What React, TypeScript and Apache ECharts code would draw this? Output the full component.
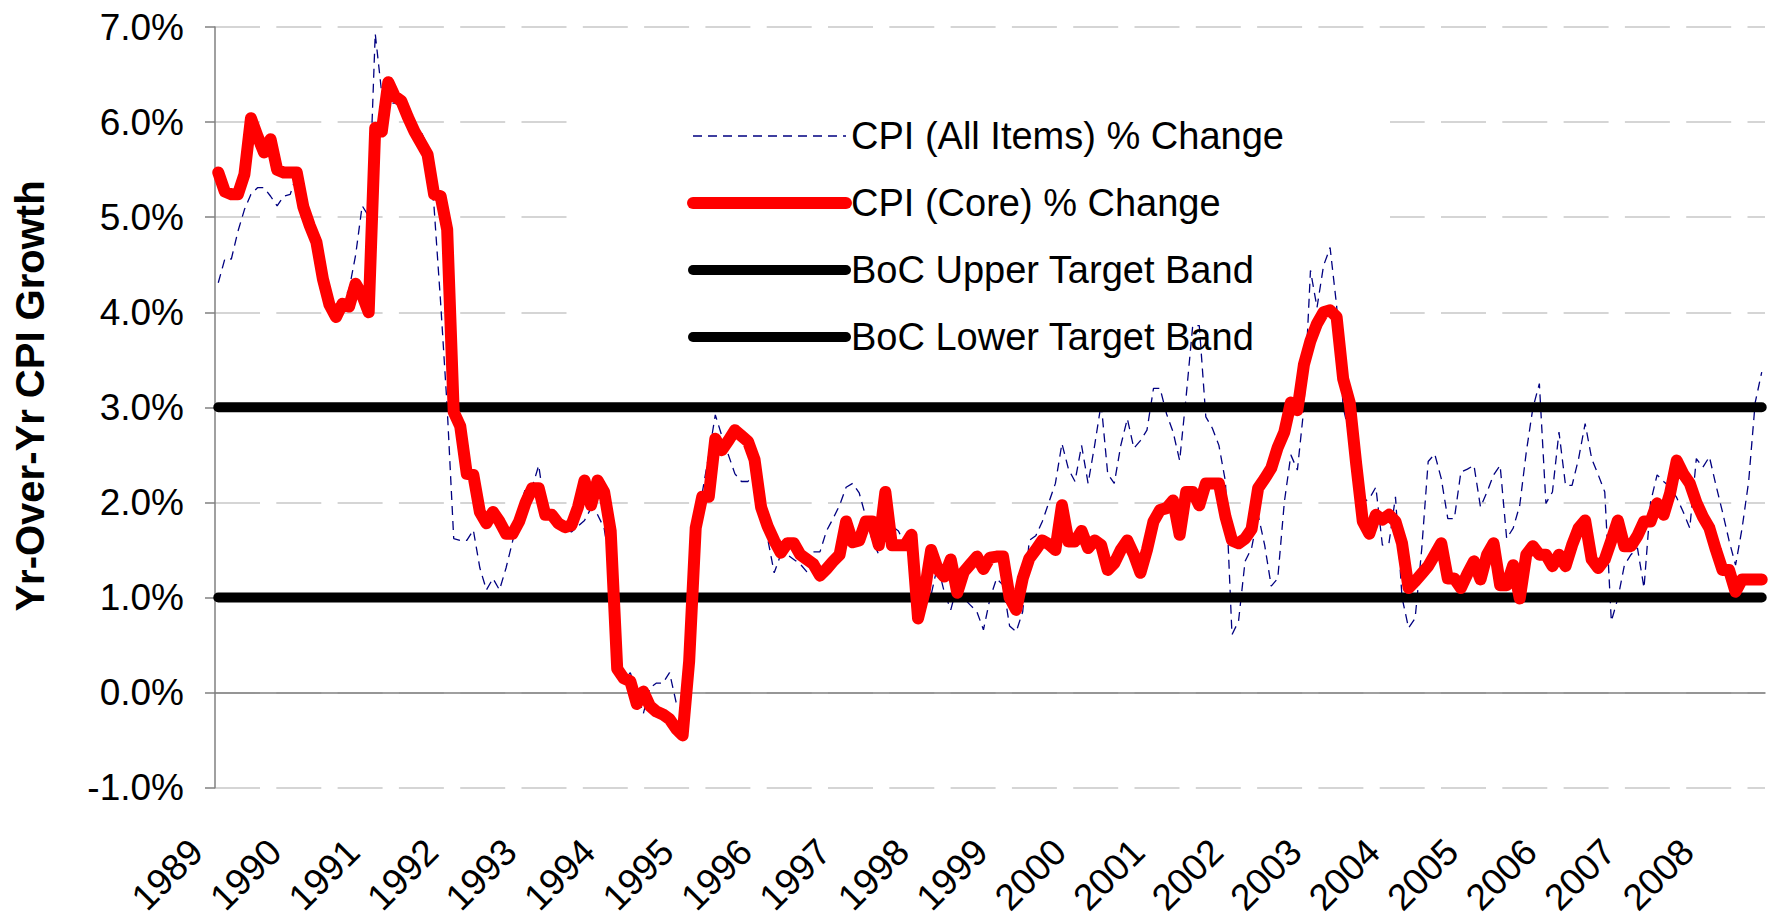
import React, { useEffect, useRef } from 'react';
import * as echarts from 'echarts';

// ---------- DATA ----------
const YEARS = ['1989', '1990', '1991', '1992', '1993', '1994', '1995', '1996', '1997', '1998',
  '1999', '2000', '2001', '2002', '2003', '2004', '2005', '2006', '2007', '2008'];
const MONTHS_IN_LAST_YEAR = 9; // series ends Sep 2008

// Y/Y % change, CPI all items (monthly, Jan 1989 – Sep 2008)
const CPI_ALL = [
  4.31, 4.56, 4.56, 4.85, 5.08, 5.24, 5.31, 5.31, 5.22, 5.12, 5.22, 5.24,
  5.45, 5.33, 4.95, 4.65, 4.38, 4.15, 4.10, 4.10, 4.24, 4.60, 5.12, 5.01,
  6.93, 6.30, 6.20, 6.20, 6.17, 6.00, 5.95, 5.90, 5.75, 5.10, 4.10, 3.00,
  1.62, 1.60, 1.60, 1.71, 1.31, 1.08, 1.20, 1.08, 1.31, 1.59, 1.90, 2.16,
  2.16, 2.39, 1.90, 1.87, 1.87, 1.72, 1.69, 1.75, 1.81, 1.94, 1.87, 1.73,
  1.30, 0.22, 0.12, 0.21, 0.00, -0.22, 0.05, 0.10, 0.10, 0.21, -0.10, -0.20,
  0.60, 1.80, 2.10, 2.50, 2.92, 2.70, 2.50, 2.30, 2.22, 2.22, 2.32, 2.00,
  1.62, 1.26, 1.45, 1.45, 1.40, 1.35, 1.27, 1.48, 1.48, 1.70, 1.83, 1.97,
  2.16, 2.20, 2.10, 1.85, 1.60, 1.45, 1.65, 1.75, 1.70, 1.55, 1.35, 1.00,
  1.00, 1.03, 1.34, 1.06, 0.87, 1.13, 0.99, 0.92, 0.85, 0.66, 0.99, 1.20,
  1.13, 0.70, 0.64, 0.85, 1.60, 1.65, 1.80, 2.00, 2.20, 2.62, 2.35, 2.22,
  2.60, 2.20, 2.60, 3.04, 2.30, 2.20, 2.60, 2.88, 2.57, 2.65, 2.76, 3.20,
  3.20, 2.93, 2.74, 2.44, 3.12, 3.86, 3.86, 2.90, 2.78, 2.60, 2.22, 0.61,
  0.75, 1.38, 1.52, 1.87, 1.55, 1.12, 1.20, 2.00, 2.50, 2.34, 3.00, 4.44,
  4.05, 4.49, 4.68, 4.07, 3.00, 2.70, 2.30, 2.00, 2.04, 2.16, 1.55, 1.57,
  2.06, 1.00, 0.68, 0.78, 1.50, 2.43, 2.51, 2.25, 1.83, 1.83, 2.32, 2.35,
  2.39, 1.95, 2.11, 2.29, 2.39, 1.62, 1.73, 1.97, 2.53, 2.99, 3.25, 1.99,
  2.11, 2.74, 2.18, 2.18, 2.46, 2.83, 2.46, 2.29, 2.11, 0.75, 0.99, 1.34,
  1.45, 1.52, 1.10, 2.00, 2.29, 2.22, 2.16, 2.05, 1.90, 1.73, 2.46, 2.37,
  2.48, 2.18, 1.90, 1.60, 1.34, 1.73, 2.22, 3.05, 3.37,
];

// Y/Y % change, core CPI
const CPI_CORE = [
  5.47, 5.27, 5.24, 5.24, 5.45, 6.04, 5.85, 5.68, 5.82, 5.50, 5.47, 5.47,
  5.47, 5.11, 4.91, 4.74, 4.35, 4.08, 3.95, 4.09, 4.06, 4.30, 4.18, 4.00,
  5.94, 5.90, 6.42, 6.27, 6.22, 6.05, 5.90, 5.78, 5.66, 5.24, 5.22, 4.87,
  2.95, 2.80, 2.30, 2.29, 1.90, 1.78, 1.90, 1.80, 1.67, 1.67, 1.80, 2.00,
  2.15, 2.15, 1.87, 1.87, 1.78, 1.74, 1.76, 1.95, 2.23, 1.97, 2.23, 2.11,
  1.70, 0.25, 0.15, 0.12, -0.12, 0.01, -0.14, -0.20, -0.23, -0.28, -0.38, -0.45,
  0.33, 1.73, 2.06, 2.06, 2.67, 2.55, 2.65, 2.76, 2.70, 2.64, 2.45, 1.95,
  1.75, 1.60, 1.47, 1.57, 1.57, 1.45, 1.40, 1.35, 1.23, 1.30, 1.38, 1.45,
  1.80, 1.58, 1.60, 1.80, 1.80, 1.55, 2.11, 1.55, 1.55, 1.55, 1.66, 0.78,
  1.06, 1.50, 1.30, 1.22, 1.40, 1.05, 1.27, 1.35, 1.43, 1.30, 1.42, 1.43,
  1.43, 1.00, 0.87, 1.20, 1.41, 1.50, 1.60, 1.56, 1.50, 1.97, 1.59, 1.59,
  1.70, 1.52, 1.60, 1.55, 1.29, 1.36, 1.50, 1.60, 1.45, 1.26, 1.50, 1.80,
  1.92, 1.94, 2.02, 1.66, 2.11, 2.11, 1.97, 2.20, 2.20, 2.20, 1.85, 1.60,
  1.57, 1.62, 1.72, 2.15, 2.25, 2.36, 2.58, 2.74, 3.05, 2.97, 3.45, 3.70,
  3.88, 4.00, 4.02, 3.95, 3.30, 3.05, 2.40, 1.80, 1.67, 1.87, 1.82, 1.87,
  1.80, 1.57, 1.10, 1.17, 1.25, 1.33, 1.45, 1.57, 1.20, 1.20, 1.10, 1.25,
  1.38, 1.19, 1.45, 1.57, 1.13, 1.13, 1.34, 0.99, 1.45, 1.54, 1.45, 1.45,
  1.33, 1.45, 1.33, 1.55, 1.73, 1.81, 1.40, 1.31, 1.40, 1.60, 1.81, 1.54,
  1.54, 1.65, 1.80, 1.80, 1.99, 1.87, 2.10, 2.44, 2.30, 2.20, 2.00, 1.85,
  1.73, 1.50, 1.29, 1.29, 1.06, 1.19, 1.19, 1.19, 1.19,
];

const UPPER_BAND = 3.0;
const LOWER_BAND = 1.0;

const Y_MIN = -1;
const Y_MAX = 7;
const Y_INTERVAL = 1;

const SERIES_NAMES = [
  'CPI (All Items) % Change',
  'CPI (Core) % Change',
  'BoC Upper Target Band',
  'BoC Lower Target Band',
];
const Y_TITLE = 'Yr-Over-Yr CPI Growth';

// ---------- derived ----------
const CATEGORIES: string[] = [];
YEARS.forEach((y, yi) => {
  const n = yi === YEARS.length - 1 ? MONTHS_IN_LAST_YEAR : 12;
  for (let m = 1; m <= n; m++) CATEGORIES.push(`${y}-${m < 10 ? '0' + m : m}`);
});
const UPPER = CATEGORIES.map(() => UPPER_BAND);
const LOWER = CATEGORIES.map(() => LOWER_BAND);

const FONT = '"Liberation Sans", Arial, Helvetica, sans-serif';

export default function App() {
  const ref = useRef<HTMLDivElement>(null);

  useEffect(() => {
    document.body.style.margin = '0';
    if (!ref.current) return;
    const chart = echarts.init(ref.current, null, { renderer: 'svg' });

    const option: any = {
      animation: false,
      backgroundColor: '#ffffff',
      grid: { left: 215, right: 7, top: 27, bottom: 129, containLabel: false },
      legend: {
        orient: 'vertical',
        left: 687,
        top: 116,
        padding: 0,
        itemWidth: 153,
        itemHeight: 14,
        itemGap: 27,
        selectedMode: false,
        z: 10,
        data: SERIES_NAMES,
        textStyle: { fontSize: 38, lineHeight: 40, color: '#000', fontFamily: FONT },
        lineStyle: { width: 'inherit' },
        itemStyle: { opacity: 0 },
      },
      graphic: {
        elements: [
          {
            type: 'rect',
            z: 1,
            silent: true,
            shape: { x: 575, y: 92, width: 815, height: 280 },
            style: { fill: '#ffffff' },
          },
          {
            type: 'text',
            z: 10,
            x: 30,
            y: 396,
            rotation: Math.PI / 2,
            style: {
              text: Y_TITLE,
              font: `bold 40px ${FONT}`,
              fill: '#000',
              align: 'center',
              verticalAlign: 'middle',
            },
          },
        ],
      },
      xAxis: {
        type: 'category',
        data: CATEGORIES,
        boundaryGap: true,
        axisLine: { show: true, lineStyle: { color: '#808080', width: 1.5 } },
        axisTick: { show: false },
        splitLine: { show: false },
        axisLabel: {
          interval: 11,
          rotate: 45,
          margin: 36,
          padding: [0, 31, 0, 0],
          fontSize: 37,
          color: '#000',
          fontFamily: FONT,
          formatter: (v: string) => v.slice(0, 4),
        },
      },
      yAxis: {
        type: 'value',
        min: Y_MIN,
        max: Y_MAX,
        interval: Y_INTERVAL,
        axisLine: { show: true, lineStyle: { color: '#808080', width: 1.5 } },
        axisTick: { show: true, length: 10, lineStyle: { color: '#808080', width: 1.5 } },
        axisLabel: {
          margin: 31,
          fontSize: 37,
          color: '#000',
          fontFamily: FONT,
          formatter: (v: number) => `${v.toFixed(1)}%`,
        },
        splitLine: {
          show: true,
          lineStyle: { color: '#c8c8c8', width: 1.5, type: [45, 16.3] },
        },
      },
      series: [
        {
          name: SERIES_NAMES[0],
          type: 'line',
          data: CPI_ALL,
          symbol: 'none',
          silent: true,
          z: 2,
          color: '#000080',
          lineStyle: { color: '#000080', width: 1.3, type: [9, 6] },
        },
        {
          name: SERIES_NAMES[2],
          type: 'line',
          data: UPPER,
          symbol: 'none',
          silent: true,
          z: 3,
          color: '#000000',
          lineStyle: { color: '#000000', width: 10, cap: 'round' },
        },
        {
          name: SERIES_NAMES[3],
          type: 'line',
          data: LOWER,
          symbol: 'none',
          silent: true,
          z: 3,
          color: '#000000',
          lineStyle: { color: '#000000', width: 10, cap: 'round' },
        },
        {
          name: SERIES_NAMES[1],
          type: 'line',
          data: CPI_CORE,
          symbol: 'none',
          silent: true,
          z: 4,
          color: '#ff0000',
          lineStyle: { color: '#ff0000', width: 12, cap: 'round', join: 'round' },
        },
      ],
    };

    chart.setOption(option);
    return () => chart.dispose();
  }, []);

  return <div ref={ref} style={{ width: 1772, height: 919 }} />;
}
